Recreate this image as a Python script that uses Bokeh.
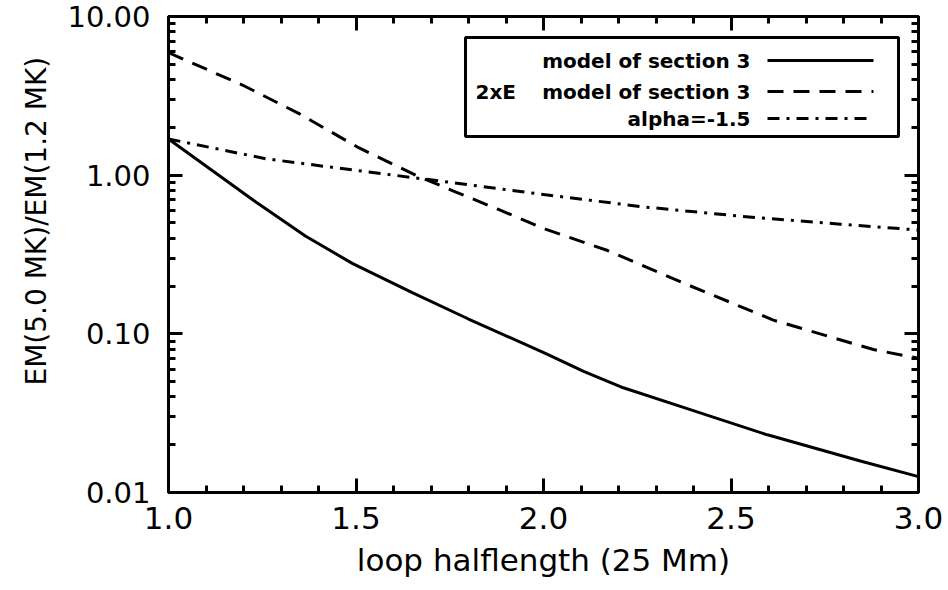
from bokeh.plotting import figure
from bokeh.models import (FixedTicker, PrintfTickFormatter, LinearAxis, LogAxis,
                          Label, Arrow, BoxAnnotation)
from bokeh.embed import file_html
from bokeh.resources import INLINE

# ---- data ----
x_model = [1.0, 1.232, 1.365, 1.49, 1.65, 1.80, 2.005, 2.107, 2.213, 2.373, 2.597, 2.845, 3.0]
em_model = [1.69, 0.68, 0.414, 0.278, 0.182, 0.124, 0.0753, 0.058, 0.0457, 0.0344, 0.0231, 0.0158, 0.0126]

x_2e = [1.0, 1.197, 1.347, 1.507, 1.659, 1.765, 1.88, 2.005, 2.171, 2.384, 2.613, 2.88, 3.0]
em_2e = [5.92, 3.70, 2.45, 1.49, 1.0, 0.785, 0.608, 0.457, 0.335, 0.204, 0.122, 0.0796, 0.0701]

x_alpha = [1.0, 1.259, 1.437, 1.704, 2.005, 2.259, 2.525, 2.792, 3.0]
em_alpha = [1.69, 1.27, 1.12, 0.931, 0.753, 0.634, 0.551, 0.491, 0.451]

x_major = [1.0, 1.5, 2.0, 2.5, 3.0]
x_minor = [1.1, 1.2, 1.3, 1.4, 1.6, 1.7, 1.8, 1.9, 2.1, 2.2, 2.3, 2.4, 2.6, 2.7, 2.8, 2.9]
y_major = [0.01, 0.1, 1.0, 10.0]
y_minor = [k * 10.0 ** d for d in (-2, -1, 0) for k in range(2, 10)]

legend_labels = ["model of section 3", "model of section 3", "alpha=-1.5"]
legend_prefix = "2xE"
x_title = "loop halflength (25 Mm)"
y_title = "EM(5.0 MK)/EM(1.2 MK)"

FONT = "DejaVu Sans"

p = figure(width=948, height=590, x_range=(1.0, 3.0), y_range=(0.01, 10.0),
           y_axis_type="log", output_backend="svg", toolbar_location=None,
           title=y_title, title_location="left",
           min_border_left=168, min_border_right=30, min_border_top=16,
           min_border_bottom=98)
p.background_fill_color = "white"
p.border_fill_color = "white"
p.outline_line_color = "black"
p.outline_line_width = 3
p.xgrid.grid_line_color = None
p.ygrid.grid_line_color = None

# y-axis title drawn via the (left) plot title so it can be offset like the reference
p.title.align = "left"
p.title.offset = 107
p.title.standoff = 24
p.title.text_font = FONT
p.title.text_font_size = "28px"
p.title.text_font_style = "normal"
p.title.text_color = "black"

def style(ax, size):
    ax.axis_line_width = 3
    ax.axis_line_color = "black"
    ax.major_tick_in = 14
    ax.major_tick_out = 0
    ax.minor_tick_in = 7
    ax.minor_tick_out = 0
    ax.major_tick_line_width = 3
    ax.minor_tick_line_width = 3
    ax.major_tick_line_color = "black"
    ax.minor_tick_line_color = "black"
    ax.major_label_text_font = FONT
    ax.major_label_text_font_size = size
    ax.major_label_text_color = "black"

xa = p.xaxis[0]
xa.ticker = FixedTicker(ticks=x_major, minor_ticks=x_minor)
xa.formatter = PrintfTickFormatter(format="%.1f")
style(xa, "31px")
xa.major_label_standoff = 14
xa.axis_label = x_title
xa.axis_label_text_font = FONT
xa.axis_label_text_font_size = "31px"
xa.axis_label_text_font_style = "normal"
xa.axis_label_text_color = "black"
xa.axis_label_standoff = 10

ya = p.yaxis[0]
ya.ticker = FixedTicker(ticks=y_major, minor_ticks=y_minor)
ya.formatter = PrintfTickFormatter(format="%.2f")
style(ya, "29px")
ya.major_label_standoff = 18

top_ax = LinearAxis(ticker=FixedTicker(ticks=x_major, minor_ticks=x_minor),
                    major_label_overrides={v: "" for v in x_major})
style(top_ax, "29px")
top_ax.major_label_standoff = 0
p.add_layout(top_ax, "above")
right_ax = LogAxis(ticker=FixedTicker(ticks=y_major, minor_ticks=y_minor),
                   major_label_overrides={v: "" for v in y_major})
style(right_ax, "29px")
right_ax.major_label_standoff = 0
p.add_layout(right_ax, "right")

# curves
p.line(x_model, em_model, line_color="black", line_width=3)
p.line(x_2e, em_2e, line_color="black", line_width=3, line_dash="16 10")
p.line(x_alpha, em_alpha, line_color="black", line_width=3, line_dash="12 7 3 7")

# legend box (screen units relative to the frame)
p.add_layout(BoxAnnotation(left=297, right=730, bottom=356, top=455,
                           left_units="screen", right_units="screen",
                           bottom_units="screen", top_units="screen",
                           fill_color="white", fill_alpha=1.0,
                           line_color="black", line_width=3, line_alpha=1.0))
rows_y = [432, 401, 374]
dashes = ["solid", "16 10", "12 7 3 7"]
for txt, yy, dash in zip(legend_labels, rows_y, dashes):
    p.add_layout(Label(x=582, y=yy, x_units="screen", y_units="screen", text=txt,
                       text_align="right", text_baseline="middle", text_font=FONT,
                       text_font_size="20px", text_font_style="bold", text_color="black"))
    p.add_layout(Arrow(x_start=599, y_start=yy, x_end=705, y_end=yy,
                       start_units="screen", end_units="screen", end=None,
                       line_color="black", line_width=3, line_dash=dash))
p.add_layout(Label(x=307, y=rows_y[1], x_units="screen", y_units="screen",
                   text=legend_prefix, text_align="left", text_baseline="middle",
                   text_font=FONT, text_font_size="20px", text_font_style="bold",
                   text_color="black"))

open("out.html", "w").write(file_html(p, INLINE))
